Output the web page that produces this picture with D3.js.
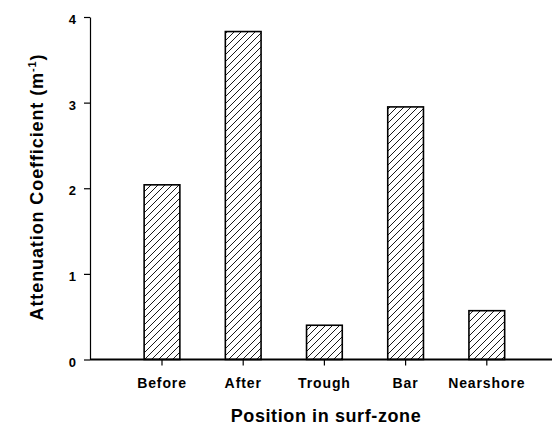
<!DOCTYPE html>
<html>
<head>
<meta charset="utf-8">
<script src="https://cdn.jsdelivr.net/npm/d3@7"></script>
<style>
  body { margin: 0; background: #fff; }
  svg { display: block; font-family: "Liberation Sans", Arial, sans-serif; }
  .tick text { font-weight: bold; fill: #000; }
</style>
</head>
<body>
<div id="chart"></div>
<script>
// --- Data ---
const positions = ["Before", "After", "Trough", "Bar", "Nearshore"];
const attenuation = [2.04, 3.83, 0.40, 2.95, 0.57];
const yTicks = [0, 1, 2, 3, 4];

const W = 552, H = 427;
const axisX = 90, axisY = 359.5, axisTop = 17;

const svg = d3.select("#chart").append("svg")
    .attr("width", W)
    .attr("height", H);

// hatch pattern for the bars
const defs = svg.append("defs");
defs.append("pattern")
    .attr("id", "hatch")
    .attr("patternUnits", "userSpaceOnUse")
    .attr("width", 7)
    .attr("height", 7)
  .append("path")
    .attr("d", "M0,7 L7,0 M-1,1 L1,-1 M6,8 L8,6")
    .attr("stroke", "#000")
    .attr("stroke-width", 0.9);

// --- Scales ---
const x = d3.scaleBand()
    .domain(positions)
    .range([121.4, 527.4])
    .paddingInner(0.56)
    .paddingOuter(0.28);

const y = d3.scaleLinear()
    .domain([0, 4])
    .range([axisY, axisTop]);

// --- Bars ---
svg.append("g")
  .selectAll("rect")
  .data(positions)
  .join("rect")
    .attr("x", (d) => x(d))
    .attr("y", (d, i) => y(attenuation[i]))
    .attr("width", x.bandwidth())
    .attr("height", (d, i) => y(0) - y(attenuation[i]))
    .attr("fill", "url(#hatch)")
    .attr("stroke", "#000")
    .attr("stroke-width", 1.6);

// --- Axes ---
const yAxis = svg.append("g")
    .attr("transform", `translate(${axisX},0)`)
    .call(d3.axisLeft(y).tickValues(yTicks).tickFormat(d3.format("d")).tickSize(6).tickPadding(8).tickSizeOuter(0));
yAxis.select(".domain").attr("stroke-width", 1.2);
yAxis.selectAll(".tick line").attr("stroke-width", 1.2);
yAxis.selectAll(".tick text").style("font-size", "13px").attr("dy", "0.5em");

const xAxis = svg.append("g")
    .attr("transform", `translate(0,${axisY})`)
    .call(d3.axisBottom(x).tickSize(6).tickPadding(13));
xAxis.select(".domain").remove();
xAxis.selectAll(".tick line").attr("stroke-width", 1.2);
xAxis.selectAll(".tick text").style("font-size", "14px").style("letter-spacing", "0.9px");

// x axis baseline runs past the last bar to the right edge
svg.append("line")
    .attr("x1", axisX).attr("x2", W)
    .attr("y1", axisY).attr("y2", axisY)
    .attr("stroke", "#000")
    .attr("stroke-width", 1.8);

// --- Axis titles ---
svg.append("text")
    .attr("x", 326)
    .attr("y", 422)
    .attr("text-anchor", "middle")
    .style("font-size", "18px")
    .style("font-weight", "bold")
    .style("letter-spacing", "0.6px")
    .text("Position in surf-zone");

const yTitle = svg.append("text")
    .attr("transform", "translate(43,187) rotate(-90)")
    .attr("text-anchor", "middle")
    .style("font-size", "18px")
    .style("font-weight", "bold")
    .style("letter-spacing", "0.9px");
yTitle.append("tspan").text("Attenuation Coefficient (m");
yTitle.append("tspan").attr("dy", -7).style("font-size", "11px").text("-1");
yTitle.append("tspan").attr("dy", 7).text(")");
</script>
</body>
</html>
